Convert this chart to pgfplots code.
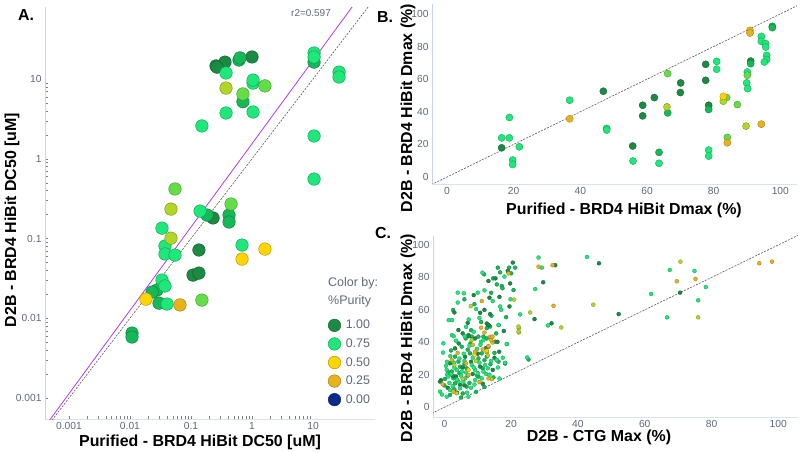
\documentclass[border=0pt]{standalone}
\usepackage{pgfplots}
\pgfplotsset{compat=1.18}
\usepackage{fontspec}
\setmainfont{Liberation Sans}
\definecolor{cdark}{RGB}{27,138,66}
\definecolor{cgreen}{RGB}{22,184,88}
\definecolor{cbright}{RGB}{30,232,122}
\definecolor{clight}{RGB}{100,222,70}
\definecolor{cyg}{RGB}{178,214,40}
\definecolor{cyel}{RGB}{255,213,0}
\definecolor{corange}{RGB}{234,178,26}
\definecolor{cnavy}{RGB}{10,42,140}
\definecolor{tickgray}{RGB}{95,105,122}
\definecolor{fitline}{RGB}{178,58,238}
\definecolor{linegray}{RGB}{220,226,236}
\definecolor{lineblue}{RGB}{200,212,235}
\pgfplotsset{
  panel/.style={scale only axis, anchor=south west,
    axis x line*=bottom, axis y line*=left,
    x axis line style={draw=linegray,-}, y axis line style={draw=lineblue,-},
    major tick length=0pt,
    tick label style={font=\fontsize{10.3}{12}\selectfont, text=tickgray},
    /pgf/number format/assume math mode=true},
  ptA/.style={only marks, mark=*, mark size=6.3bp, forget plot,
    mark options={fill=#1, draw=#1!65!black, line width=0.4bp}},
  ptB/.style={only marks, mark=*, mark size=3.6bp, forget plot,
    mark options={fill=#1, draw=#1!65!black, line width=0.3bp}},
  ptC/.style={only marks, mark=*, mark size=2bp, forget plot,
    mark options={fill=#1, draw=#1!65!black, line width=0.25bp}},
  diag/.style={draw=black!65, dash pattern=on 2bp off 1.3bp, line width=0.6bp, forget plot},
}
\begin{document}
\begin{tikzpicture}
\useasboundingbox (0,0) rectangle (800bp,453bp);
% ---------------- Panel A ----------------
\begin{axis}[panel, at={(45bp,34bp)}, width=330bp, height=412bp,
  xmode=log, ymode=log,
  xmin=4.05e-4, xmax=103.7, ymin=5.46e-4, ymax=80,
  xtick={0.001,0.01,0.1,1,10}, xticklabels={0.001,0.01,0.1,1,10},
  ytick={0.001,0.01,0.1,1,10}, yticklabels={0.001,0.01,0.1,1,10},
  legend image code/.code={\draw[#1] plot coordinates {(0bp,0bp)};},
  legend style={at={(0.8576,0.245)}, anchor=north west, draw=none, fill=none,
    inner sep=0pt, row sep=4.4bp, column sep=3bp,
    font=\fontsize{12.5}{14}\selectfont, text=tickgray},
  legend cell align=left]
\addplot[ptA=cdark] coordinates {(0.257,14.6) (0.361,16.3) (0.267,14.1) (1.0,18.9) (0.230,0.181) (0.135,0.0718) (0.108,0.0348) (0.135,0.0369)};
\addplot[ptA=cgreen] coordinates {(0.612,17.3) (0.636,18.4) (0.71,5.2) (0.183,0.197) (0.42,0.197) (0.42,0.161) (0.0277,0.0226) (0.023,0.0213) (0.0299,0.0155) (0.0108,0.00653) (0.0108,0.00582) (10.4,16.3)};
\addplot[ptA=cbright] coordinates {(0.375,11.9) (0.151,2.58) (0.375,3.75) (1.04,3.86) (1.04,8.9) (1.04,9.7) (26.7,12.2) (26.7,10.6) (10.4,1.93) (10.4,0.557) (0.0335,0.135) (0.0375,0.0805) (0.0375,0.064) (0.0547,0.062) (0.141,0.221) (0.686,0.0828) (0.0335,0.0302) (0.0375,0.0254) (0.0405,0.0151) (10.4,21.2) (10.4,18.9)};
\addplot[ptA=clight] coordinates {(1.63,8.2) (0.71,6.5) (0.0547,0.418) (0.453,0.271) (0.151,0.0169)};
\addplot[ptA=cyg] coordinates {(0.375,7.7) (0.047,0.234) (0.047,0.101)};
\addplot[ptA=cyel] coordinates {(1.63,0.0738) (0.686,0.0553) (0.0183,0.0174)};
\addplot[ptA=corange] coordinates {(0.066,0.0147)};
\addplot[diag] coordinates {(1e-4,1e-4) (200,200)};
\addplot[draw=fitline, line width=0.8bp, forget plot] coordinates {(1e-4,1.02e-4) (200,392.6)};
\addlegendimage{only marks, mark=*, mark size=6.3bp, mark options={fill=cdark, draw=cdark!65!black, line width=0.4bp}}
\addlegendentry{1.00}
\addlegendimage{only marks, mark=*, mark size=6.3bp, mark options={fill=cbright, draw=cbright!65!black, line width=0.4bp}}
\addlegendentry{0.75}
\addlegendimage{only marks, mark=*, mark size=6.3bp, mark options={fill=cyel, draw=cyel!65!black, line width=0.4bp}}
\addlegendentry{0.50}
\addlegendimage{only marks, mark=*, mark size=6.3bp, mark options={fill=corange, draw=corange!65!black, line width=0.4bp}}
\addlegendentry{0.25}
\addlegendimage{only marks, mark=*, mark size=6.3bp, mark options={fill=cnavy, draw=cnavy!65!black, line width=0.4bp}}
\addlegendentry{0.00}
\end{axis}
% ---------------- Panel B ----------------
\begin{axis}[panel, at={(432bp,269bp)}, width=365bp, height=180bp,
  xmin=-4.5, xmax=105, ymin=-4.3, ymax=106.1,
  xtick={0,20,40,60,80,100}, ytick={0,20,40,60,80,100}]
\addplot[diag] coordinates {(-10,-10) (110,110)};
\addplot[ptB=cdark] coordinates {(16.4,17.9) (46.9,52.6) (55.7,19.0) (58.7,44.0) (58.7,37.5) (62.2,48.7) (70.1,57.7) (70.0,51.8) (77.6,69.1) (77.6,59.3) (78.5,44.0) (91.1,71.1)};
\addplot[ptB=cgreen] coordinates {(78.5,41.4) (63.6,15.1) (66.2,39.3) (91.1,69.5) (97.6,92.4) (97.6,91.6)};
\addplot[ptB=cbright] coordinates {(16.4,24.0) (18.7,24.0) (18.7,36.5) (21.7,18.5) (19.7,10.4) (19.7,7.7) (36.8,47.1) (47.9,29.8) (47.9,28.8) (55.8,9.8) (63.6,8.4) (80.9,70.9) (80.9,66.1) (78.5,16.5) (78.5,12.8) (90.1,64.4) (89.9,57.7) (90.2,54.2) (94.3,86.2) (94.3,83.2) (95.6,81.8) (95.6,79.7) (95.9,74.6) (95.9,72.0) (95.2,70.5)};
\addplot[ptB=clight] coordinates {(83.9,48.7) (84.1,24.3) (87.1,44.4) (66.2,63.4) (90.1,62.4)};
\addplot[ptB=cyg] coordinates {(66.0,43.0) (82.9,46.5) (89.7,31.2)};
\addplot[ptB=cyel] coordinates {(82.9,49.5)};
\addplot[ptB=corange] coordinates {(36.8,35.7) (84.1,21.0) (90.9,89.9) (90.9,88.3) (94.3,32.4)};
\end{axis}
% ---------------- Panel C ----------------
\begin{axis}[panel, at={(433bp,36bp)}, width=365bp, height=181bp,
  xmin=-3.4, xmax=105.9, ymin=-6.0, ymax=105.5,
  xtick={0,20,40,60,80,100}, ytick={0,20,40,60,80,100}]
\addplot[diag] coordinates {(-10,-10) (110,110)};
\addplot[ptC=cgreen] coordinates {(21.2,86.0) (19.4,86.0) (16.7,83.1) (14.6,79.4) (17.2,74.7) (17.4,73.3) (11.9,81.9) (15.7,75.7) (20.7,72.2) (2.6,59.9) (14.1,56.4) (7.8,39.3) (13.7,49.7) (12.7,48.7) (7.2,44.5) (8.2,43.5) (6.4,42.4) (10.2,43.5) (11.7,43.5) (12.7,42.4) (15.2,40.4) (5.2,37.3) (13.2,37.3) (7.7,33.2) (10.2,30.1) (11.2,33.2) (12.7,31.2) (16.2,28.1) (3.2,31.2) (4.2,28.1) (4.7,25.0) (2.2,22.0) (6.7,24.0) (10.2,18.9) (14.7,18.4) (2.7,17.8) (3.2,14.8) (6.7,12.7) (1.7,7.6) (25.2,29.4) (9.5,9.5) (5.5,8.5) (0.0,13.5) (12.0,12.5) (7.0,19.5) (15.0,33.5)
 (1.2,21.5) (4.5,21.0) (6.0,26.5) (7.5,15.0) (9.8,19.5) (11.5,24.0) (3.0,11.0) (5.0,6.0) (0.2,17.5) (2.0,35.0) (7.0,35.5) (12.0,29.0) (13.8,26.5) (8.0,47.5) (11.0,52.5) (15.5,45.5) (18.5,55.5) (14.0,70.5) (9.0,63.5) (16.0,86.0) (20.0,82.5) (6.0,66.5)};
\addplot[ptC=cdark] coordinates {(20.5,89.1) (15.3,79.4) (19.7,76.3) (13.2,77.8) (8.8,69.1) (13.5,67.5) (19.5,62.1) (3.0,58.4) (13.7,57.4) (10.7,58.2) (13.2,50.6) (12.7,51.6) (5.5,45.5) (4.3,39.3) (7.3,43.8) (15.9,40.3) (16.4,34.2) (-1.0,16.7) (46.3,88.7) (33.2,87.5) (29.6,77.0) (52.2,57.4) (32.1,51.7) (70.6,70.6) (27.0,54.3) (13.2,50.7) (4.2,47.6) (9.2,42.4) (3.2,36.3) (18.2,27.0) (-1.3,15.8) (4.7,13.8) (10.7,25.0) (1.7,27.1) (6.2,31.1) (11.5,14.5) (3.5,19.0) (8.5,20.5) (14.5,23.0) (1.0,12.0)
 (2.5,19.5) (5.5,24.5) (8.0,28.0) (10.0,33.0) (12.5,36.5) (3.8,9.0) (6.0,13.5) (15.0,30.5) (7.0,52.0) (12.0,60.0) (17.8,47.0) (16.5,68.0) (19.0,84.0)};
\addplot[ptC=cbright] coordinates {(28.2,92.2) (42.7,92.6) (29.2,86.0) (11.4,82.9) (27.2,72.8) (10.0,70.6) (5.8,70.2) (4.0,70.6) (14.5,65.4) (16.7,62.1) (22.7,57.2) (1.3,53.7) (2.3,53.7) (7.3,54.1) (16.3,50.6) (2.3,44.4) (2.8,43.8) (6.1,43.8) (8.8,46.5) (11.0,40.3) (11.7,41.4) (18.7,38.9) (15.7,29.0) (18.2,27.4) (16.5,17.7) (-0.4,33.7) (0.8,28.0) (0.8,20.2) (-0.7,7.8) (31.0,50.4) (61.9,69.8) (67.5,84.6) (74.9,84.0) (78.3,74.1) (76.0,65.9) (66.7,55.4) (16.2,50.7) (18.7,39.0) (-0.3,39.4) (12.7,34.2) (15.7,29.1) (0.7,23.0) (5.2,22.0) (9.2,23.0) (11.7,22.0) (6.2,17.8) (11.2,17.8) (5.7,15.8) (1.2,18.9) (4.2,15.8) (-1.3,9.6) (1.7,10.6) (4.7,11.7) (0.7,6.5) (7.2,6.5) (9.2,16.8) (3.7,23.0) (8.2,26.1) (24.8,30.7) (2.0,20.5) (3.0,24.5) (6.0,28.5) (10.5,27.5) (13.0,24.0) (2.5,13.0) (8.0,12.0) (12.5,20.5) (4.5,30.0) (7.5,38.0) (9.8,36.0)
 (1.5,15.0) (3.8,17.0) (5.0,19.5) (6.5,21.5) (8.8,24.5) (10.0,21.0) (12.2,26.0) (14.0,28.5) (2.8,27.5) (5.8,33.0) (8.5,30.5) (10.8,38.5) (3.5,41.0) (0.5,25.5) (1.8,31.5) (6.8,9.0) (9.0,14.0) (13.5,20.0) (16.0,24.5) (17.5,30.5) (4.0,64.5) (9.5,60.5) (12.0,72.0) (18.0,80.5) (6.5,49.5) (10.5,55.0) (17.0,60.0) (19.8,66.5)};
\addplot[ptC=cyg] coordinates {(7.9,62.3) (20.9,66.3) (25.7,58.4) (22.3,48.6) (22.3,46.1) (8.2,41.4) (14.2,17.3) (35.0,49.2) (44.6,63.2) (76.0,55.4) (70.7,89.7) (3.7,8.6) (22.2,49.7) (22.2,46.6) (12.7,34.0) (5.5,17.5) (9.5,28.5) (13.0,32.0) (3.0,26.0)};
\addplot[ptC=corange] coordinates {(28.2,86.6) (19.2,82.5) (11.2,65.4) (11.0,49.0) (13.7,43.4) (14.2,43.0) (13.2,37.7) (14.4,39.9) (11.5,35.6) (-0.5,14.2) (32.7,62.5) (69.6,77.6) (75.2,79.0) (94.3,88.7) (98.1,89.7) (14.4,43.5) (14.0,41.4) (9.2,34.2) (2.2,29.1) (7.2,19.9) (13.2,17.8) (2.7,9.6) (32.4,87.5) (4.0,33.5) (8.5,38.5) (12.0,46.0) (6.5,27.0) (10.5,15.5)};
\addplot[ptC=cyel] coordinates {(12.7,34.8) (9.0,32.2) (7.2,23.0)};
\end{axis}
% ---------------- Text ----------------
\tikzset{lab/.style={font=\bfseries\fontsize{16}{18}\selectfont, text=black, inner sep=0pt}}
\node[lab] at (26bp,438bp) {A.};
\node[lab] at (385bp,436bp) {B.};
\node[lab] at (383bp,220bp) {C.};
\node[lab, rotate=90] at (12bp,233bp) {D2B - BRD4 HiBit DC50 [uM]};
\node[lab] at (200bp,11bp) {Purified - BRD4 HiBit DC50 [uM]};
\node[lab, rotate=90] at (408bp,345bp) {D2B - BRD4 HiBit Dmax (\%)};
\node[lab] at (624bp,243bp) {Purified - BRD4 HiBit Dmax (\%)};
\node[lab, rotate=90] at (408bp,115bp) {D2B - BRD4 HiBit Dmax (\%)};
\node[lab] at (599bp,16bp) {D2B - CTG Max (\%)};
\node[font=\fontsize{10}{12}\selectfont, text=tickgray, inner sep=0pt] at (311bp,440bp) {r2=0.597};
\node[anchor=west, font=\fontsize{12.5}{14}\selectfont, text=tickgray, inner sep=0pt] at (328bp,170bp) {Color by:};
\node[anchor=west, font=\fontsize{12.5}{14}\selectfont, text=tickgray, inner sep=0pt] at (328bp,152bp) {\%Purity};
\end{tikzpicture}
\end{document}
